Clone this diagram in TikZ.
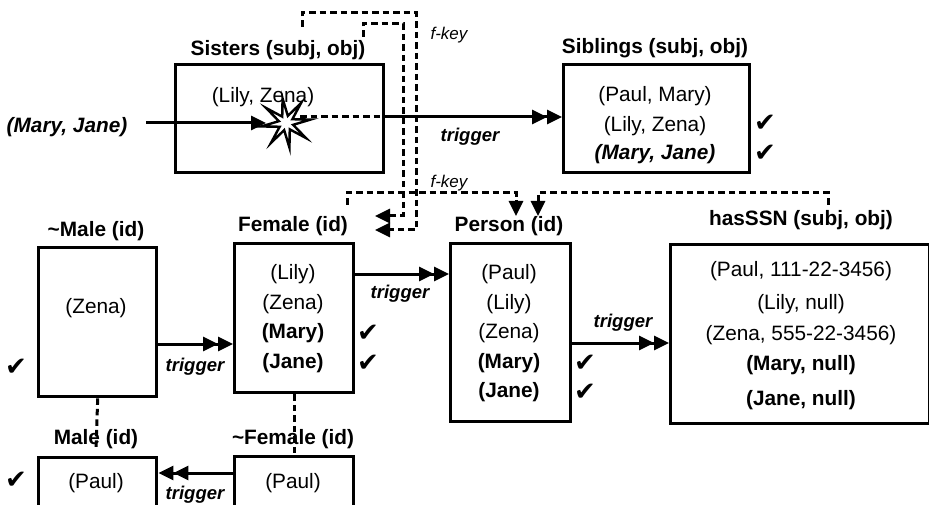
\documentclass[tikz,border=0pt]{standalone}
\usepackage{fontspec}
\setmainfont{Liberation Sans}
\newfontfamily\symf{DejaVu Sans}
\usetikzlibrary{arrows.meta,shapes.geometric}
\tikzset{
  box/.style={draw, line width=3.4pt, inner sep=0pt, anchor=north west},
  txt/.style={inner sep=0pt, font=\fontsize{20.8}{24}\selectfont},
  ttl/.style={inner sep=0pt, font=\fontsize{20.8}{24}\selectfont\bfseries},
  bld/.style={inner sep=0pt, font=\fontsize{20.8}{24}\selectfont\bfseries},
  bit/.style={inner sep=0pt, font=\fontsize{20.8}{24}\selectfont\bfseries\itshape},
  trig/.style={inner sep=0pt, font=\fontsize{18.5}{22}\selectfont\bfseries\itshape},
  fkey/.style={inner sep=0pt, font=\fontsize{17}{20}\selectfont\itshape},
  chk/.style={inner sep=0pt, font=\fontsize{26}{28}\symf},
  conn/.style={line width=3pt},
  dbl/.style={conn, -{Triangle[length=15pt,width=14pt]Triangle[length=15pt,width=14pt]}},
  sgl/.style={conn, -{Triangle[length=15pt,width=14pt]}},
  dsh/.style={line width=3pt, dash pattern=on 6.5pt off 4pt},
}
\begin{document}
\begin{tikzpicture}[x=1pt,y=-1pt]
\useasboundingbox (0,0) rectangle (929,505);
\clip (0,0) rectangle (929,505);
% ---- boxes
\node[box, minimum width=208pt, minimum height=108pt] (sis) at (174,63) {};
\node[box, minimum width=186pt, minimum height=108pt] (sib) at (562,63) {};
\node[box, minimum width=118pt, minimum height=149pt] (nmale) at (37,246) {};
\node[box, minimum width=119pt, minimum height=149pt] (fem) at (233,242) {};
\node[box, minimum width=120pt, minimum height=178pt] (per) at (449,242) {};
\node[box, minimum width=259pt, minimum height=179pt] (ssn) at (669,243) {};
\node[box, minimum width=118pt, minimum height=80pt] (male) at (37,456) {};
\node[box, minimum width=119pt, minimum height=80pt] (nfem) at (233,455) {};
% ---- titles
\node[ttl] (tsis) at (278,50) {Sisters (subj, obj)};
\node[ttl] (tsib) at (655,48) {Siblings (subj, obj)};
\node[ttl] (tnmale) at (96,231) {\textasciitilde Male (id)};
\node[ttl] (tfem) at (293,226) {Female (id)};
\node[ttl] (tper) at (509,226) {Person (id)};
\node[ttl] (tssn) at (801,220) {hasSSN (subj, obj)};
\node[ttl] (tmale) at (96,439) {Male (id)};
\node[ttl] (tnfem) at (293,439) {\textasciitilde Female (id)};
% ---- contents
\node[txt] (s1) at (263,97) {(Lily, Zena)};
\node[bit] (mj) at (67,127) {(Mary, Jane)};
\node[txt] (b1) at (655,96) {(Paul, Mary)};
\node[txt] (b2) at (655,126) {(Lily, Zena)};
\node[bit] (b3) at (655,154) {(Mary, Jane)};
\node[txt] (m1) at (96,308) {(Zena)};
\node[txt] (f1) at (293,274) {(Lily)};
\node[txt] (f2) at (293,304) {(Zena)};
\node[bld] (f3) at (293,333) {(Mary)};
\node[bld] (f4) at (293,363) {(Jane)};
\node[txt] (p1) at (509,274) {(Paul)};
\node[txt] (p2) at (509,304) {(Lily)};
\node[txt] (p3) at (509,333) {(Zena)};
\node[bld] (p4) at (509,363) {(Mary)};
\node[bld] (p5) at (509,392) {(Jane)};
\node[txt] (h1) at (801,271) {(Paul, 111-22-3456)};
\node[txt] (h2) at (801,304) {(Lily, null)};
\node[txt] (h3) at (801,335) {(Zena, 555-22-3456)};
\node[bld] (h4) at (801,365) {(Mary, null)};
\node[bld] (h5) at (801,400) {(Jane, null)};
\node[txt] (ma1) at (96,483) {(Paul)};
\node[txt] (nf1) at (293,483) {(Paul)};
% ---- checks
\node[chk] (c1) at (765,123) {✔};
\node[chk] (c2) at (765,153) {✔};
\node[chk] (c3) at (368,333) {✔};
\node[chk] (c4) at (368,363) {✔};
\node[chk] (c5) at (585,363) {✔};
\node[chk] (c6) at (585,392) {✔};
\node[chk] (c7) at (16,367) {✔};
\node[chk] (c8) at (16,480) {✔};
% ---- trigger labels
\node[trig] (t1) at (470,137) {trigger};
\node[trig] (t2) at (195,367) {trigger};
\node[trig] (t3) at (400,294) {trigger};
\node[trig] (t4) at (623,323) {trigger};
\node[trig] (t5) at (195,495) {trigger};
\node[fkey] (k1) at (449,35) {f-key};
\node[fkey] (k2) at (449,183) {f-key};
% ---- star and trigger into Sisters
\coordinate (mjs) at (146,123);
\coordinate (stw) at (266,123);
\draw[sgl] (mjs) -- (stw);
\draw[dsh] (300,117) -- (sis.east |- 0,117);
\draw[dbl] (sis.east |- 0,117) -- (sib.west |- 0,117);
\node[star, star points=8, star point ratio=3.4, minimum size=50pt, inner sep=0pt,
      draw, fill=white, line width=2.4pt, rotate=8] (star) at (286,123) {};
% ---- f-key lines to Female
\coordinate (fa) at (302,27);
\coordinate (fb) at (363,37);
\coordinate (fe1) at (375,230);
\coordinate (fe2) at (375,216);
\draw[dsh] (fa) -- (302,13) -- (416,13) -- (416,230) -- (391,230);
\draw[sgl] (392,230) -- (fe1);
\draw[dsh] (fb) -- (363,24) -- (403,24) -- (403,216) -- (391,216);
\draw[sgl] (392,216) -- (fe2);
% ---- f-key lines to Person
\coordinate (ga) at (347,205);
\coordinate (gp1) at (516,216);
\coordinate (gp2) at (538,216);
\draw[dsh] (ga) -- (347,193) -- (516,193) -- (516,202);
\draw[sgl] (516,200) -- (gp1);
\draw[dsh] (ssn.north -| 828,0) ++(0,-38) -- (828,193) -- (538,193) -- (538,202);
\draw[sgl] (538,200) -- (gp2);
% ---- triggers between boxes
\draw[dbl] (nmale.east |- 0,344) -- (fem.west |- 0,344);
\draw[dbl] (fem.east |- 0,274) -- (per.west |- 0,274);
\draw[dbl] (per.east |- 0,343) -- (ssn.west |- 0,343);
\draw[dbl] (nfem.west |- 0,473) -- (male.east |- 0,473);
% ---- complement links
\draw[dsh] (nmale.south) -- (96,449);
\draw[dsh] (fem.south) -- (nfem.north);
\end{tikzpicture}
\end{document}
